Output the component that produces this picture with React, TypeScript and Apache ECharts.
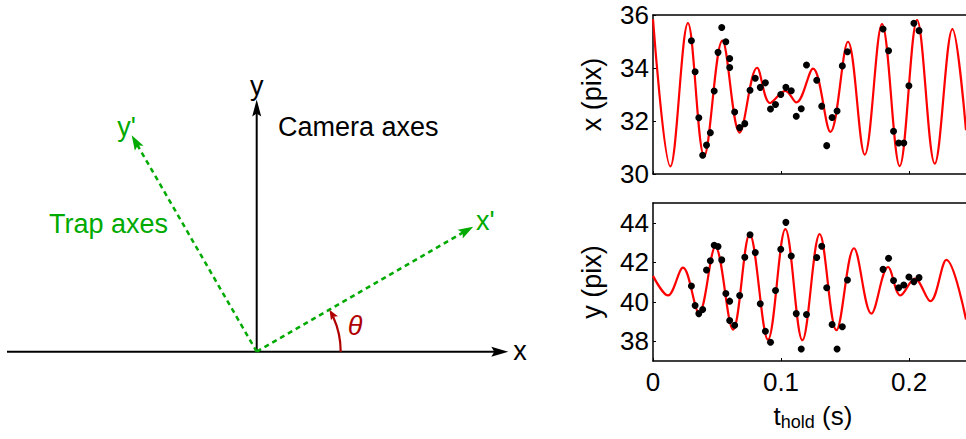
import { useEffect, useRef } from 'react';
import * as echarts from 'echarts';

// ---- data ----
const tHold = [0.0300, 0.0329, 0.0358, 0.0388, 0.0418, 0.0448, 0.0478, 0.0508, 0.0537, 0.0569,
  0.0599, 0.0599, 0.0638, 0.0677, 0.0717, 0.0758, 0.0799, 0.0838, 0.0878, 0.0918,
  0.0957, 0.0998, 0.1038, 0.1080, 0.1119, 0.1158, 0.1199, 0.1279, 0.1318, 0.1357,
  0.1399, 0.1438, 0.1479, 0.1519, 0.1797, 0.1840, 0.1879, 0.1919, 0.1959, 0.1999,
  0.2038, 0.2078];

const xPix = [35.03, 33.86, 32.12, 30.71, 31.09, 31.56, 33.13, 34.59, 35.53, 34.99,
  34.36, 34.02, 32.34, 31.75, 31.90, 33.16, 33.61, 33.27, 33.44, 32.45,
  32.62, 33.00, 33.27, 33.14, 32.18, 32.46, 34.11, 33.54, 32.56, 31.07,
  32.13, 32.38, 34.08, 34.61, 35.47, 34.65, 31.61, 31.17, 31.17, 33.33,
  35.69, 35.41];

const yPix = [40.80, 39.81, 39.40, 39.61, 41.61, 42.08, 42.86, 42.80, 42.12, 40.42,
  40.03, 39.05, 38.81, 40.32, 42.25, 43.39, 42.49, 39.90, 38.51, 37.95,
  40.57, 42.66, 44.02, 42.32, 39.40, 37.61, 39.35, 42.24, 42.81, 40.71,
  38.85, 37.61, 38.73, 41.10, 41.64, 42.20, 41.08, 40.71, 40.85, 41.25,
  41.02, 41.22];

// fit curves: turning points
const xFitT = [0, 0.0136, 0.0273, 0.0400, 0.0542, 0.0677, 0.0813, 0.0915, 0.1034, 0.1120,
  0.1250, 0.1386, 0.1523, 0.1654, 0.1789, 0.1927, 0.2063, 0.2201, 0.2339, 0.2445];
const xFitV = [35.84, 30.29, 35.69, 30.68, 35.03, 31.56, 34.01, 32.68, 33.14, 32.70,
  33.98, 31.59, 34.99, 30.73, 35.66, 30.30, 35.81, 30.39, 35.47, 31.65];

const yFitT = [0, 0.0117, 0.0234, 0.0359, 0.0487, 0.0625, 0.0755, 0.0898, 0.1034, 0.1167,
  0.1302, 0.1433, 0.1570, 0.1706, 0.1836, 0.1933, 0.2045, 0.2167, 0.2292, 0.2445];
const yFitV = [41.31, 40.32, 41.73, 39.44, 42.78, 38.59, 43.42, 38.08, 43.68, 38.05,
  43.42, 38.56, 42.71, 39.40, 41.76, 40.32, 41.17, 40.03, 42.12, 39.10];

const tTicks = [0, 0.1, 0.2];
const tTickLabels = ['0', '0.1', '0.2'];
const xPixTicks = [30, 32, 34, 36];
const yPixTicks = [38, 40, 42, 44];

const FONT = "'Liberation Sans', Arial, Helvetica, sans-serif";
const T_MAX = 0.2445;
const GREEN = '#00aa00';
const DARKRED = '#b00000';

type P = [number, number];

function arrowHead(tip: P, ang: number, len: number, halfW: number, notch: number): P[] {
  // ang: direction of travel in screen radians (0 = right, positive = up)
  const d: P = [Math.cos(ang), -Math.sin(ang)];
  const n: P = [-d[1], d[0]];
  const b: P = [tip[0] - len * d[0], tip[1] - len * d[1]];
  return [
    tip,
    [b[0] + halfW * n[0], b[1] + halfW * n[1]],
    [tip[0] - (len - notch) * d[0], tip[1] - (len - notch) * d[1]],
    [b[0] - halfW * n[0], b[1] - halfW * n[1]],
  ];
}

function buildDiagram(): any[] {
  const O: P = [256.7, 351.7];
  const theta = (30 * Math.PI) / 180;
  const L = 250;
  const els: any[] = [];
  // camera x axis
  const xTip: P = [508.3, O[1]];
  els.push({ type: 'line', shape: { x1: 7, y1: O[1], x2: xTip[0] - 12, y2: O[1] }, style: { stroke: '#000', lineWidth: 2 } });
  els.push({ type: 'polygon', shape: { points: arrowHead(xTip, 0, 17, 5, 3) }, style: { fill: '#000' } });
  // camera y axis
  const yTip: P = [O[0], 99.5];
  els.push({ type: 'line', shape: { x1: O[0], y1: O[1], x2: O[0], y2: yTip[1] + 12 }, style: { stroke: '#000', lineWidth: 2 } });
  els.push({ type: 'polygon', shape: { points: arrowHead(yTip, Math.PI / 2, 17, 4.5, 3) }, style: { fill: '#000' } });
  // trap axes
  [theta, theta + Math.PI / 2].forEach((a) => {
    const tip: P = [O[0] + L * Math.cos(a), O[1] - L * Math.sin(a)];
    const end: P = [O[0] + (L - 11) * Math.cos(a), O[1] - (L - 11) * Math.sin(a)];
    els.push({ type: 'line', shape: { x1: O[0], y1: O[1], x2: end[0], y2: end[1] }, style: { stroke: GREEN, lineWidth: 2.5, lineDash: [5, 4] } });
    els.push({ type: 'polygon', shape: { points: arrowHead(tip, a, 15, 5, 3) }, style: { fill: GREEN } });
  });
  // theta arc
  const r = 84;
  els.push({ type: 'arc', shape: { cx: O[0], cy: O[1], r, startAngle: 0, endAngle: -(theta - 8 / r), clockwise: false }, style: { stroke: DARKRED, lineWidth: 2.2, fill: 'none' } });
  const aTip: P = [O[0] + r * Math.cos(theta), O[1] - r * Math.sin(theta)];
  els.push({ type: 'polygon', shape: { points: arrowHead(aTip, theta + Math.PI / 2, 10, 4, 2) }, style: { fill: DARKRED } });

  const txt = (text: string, x: number, y: number, fill: string, align: string, extra: any = {}) => ({
    type: 'text', x, y,
    style: { text, fill, fontSize: 27, fontFamily: FONT, align, verticalAlign: 'middle', textAlign: align, textVerticalAlign: 'middle', ...extra },
  });
  els.push(txt('y', O[0], 86, '#000', 'center'));
  els.push(txt('Camera axes', 278, 127, '#000', 'left'));
  els.push(txt('Trap axes', 168, 224, GREEN, 'right'));
  els.push(txt("y'", 126.5, 126.5, GREEN, 'center'));
  els.push(txt("x'", 476, 221, GREEN, 'left'));
  els.push(txt('x', 520, 350.5, '#000', 'center'));
  els.push(txt('θ', 355, 325.5, DARKRED, 'center', { fontStyle: 'italic' }));
  return els;
}

export default function App() {
  const ref = useRef<HTMLDivElement>(null);
  useEffect(() => {
    const chart = echarts.init(ref.current!, null, { renderer: 'svg' });
    const axisLine = { show: true, onZero: false, lineStyle: { color: '#000', width: 1.5 } };
    const tickIn = (vals: number[]) => ({ show: true, inside: true, length: 3, customValues: vals, lineStyle: { color: '#000', width: 1 } });
    const tAxis = (grid: number, labels: boolean) => ({
      gridIndex: grid, type: 'value', min: 0, max: T_MAX, position: 'bottom',
      axisLine, axisTick: tickIn(tTicks), splitLine: { show: false },
      axisLabel: {
        show: labels, customValues: tTicks, color: '#000', fontSize: 26, fontFamily: FONT, margin: 8,
        formatter: (v: number) => { const i = tTicks.findIndex((t) => Math.abs(t - v) < 1e-9); return i >= 0 ? tTickLabels[i] : ''; },
      },
    });
    const topLine = (grid: number) => ({
      gridIndex: grid, type: 'value', min: 0, max: T_MAX, position: 'top',
      axisLine, axisTick: { show: false }, axisLabel: { show: false }, splitLine: { show: false },
    });
    const valAxis = (grid: number, min: number, max: number, ticks: number[]) => ({
      gridIndex: grid, type: 'value', min, max,
      axisLine, axisTick: tickIn(ticks), splitLine: { show: false },
      axisLabel: { customValues: ticks, color: '#000', fontSize: 26, fontFamily: FONT, margin: 4 },
    });
    const graphic: any[] = [
      ...buildDiagram(),
      { type: 'text', x: 592, y: 94.5, rotation: Math.PI / 2, style: { text: 'x (pix)', fill: '#000', fontSize: 27, fontFamily: FONT, align: 'center', verticalAlign: 'middle', textAlign: 'center', textVerticalAlign: 'middle' } },
      { type: 'text', x: 592, y: 282, rotation: Math.PI / 2, style: { text: 'y (pix)', fill: '#000', fontSize: 27, fontFamily: FONT, align: 'center', verticalAlign: 'middle', textAlign: 'center', textVerticalAlign: 'middle' } },
      {
        type: 'text', x: 813, y: 416,
        style: {
          text: '{a|t}{b|hold}{a| (s)}', align: 'center', verticalAlign: 'middle', textAlign: 'center', textVerticalAlign: 'middle',
          rich: {
            a: { fontSize: 26, lineHeight: 30, fontFamily: FONT, fill: '#000' },
            b: { fontSize: 18, lineHeight: 12, verticalAlign: 'bottom', fontFamily: FONT, fill: '#000' },
          },
        },
      },
    ];
    const option: any = {
      animation: false,
      backgroundColor: '#fff',
      textStyle: { fontFamily: FONT },
      grid: [
        { left: 653, top: 15, width: 313, height: 159 },
        { left: 653, top: 203, width: 313, height: 158 },
      ],
      xAxis: [tAxis(0, false), topLine(0), tAxis(1, true), topLine(1)],
      yAxis: [valAxis(0, 30, 36, xPixTicks), valAxis(1, 37, 45, yPixTicks)],
      graphic,
      series: [
        {
          type: 'line', xAxisIndex: 0, yAxisIndex: 0, data: xFitT.map((t, i) => [t, xFitV[i]]),
          smooth: 0.36, symbol: 'none', lineStyle: { color: '#ff0000', width: 2.2 }, z: 2,
        },
        {
          type: 'scatter', xAxisIndex: 0, yAxisIndex: 0, data: tHold.map((t, i) => [t, xPix[i]]),
          symbolSize: 7, itemStyle: { color: '#000', opacity: 1 }, z: 3,
        },
        {
          type: 'line', xAxisIndex: 2, yAxisIndex: 1, data: yFitT.map((t, i) => [t, yFitV[i]]),
          smooth: 0.36, symbol: 'none', lineStyle: { color: '#ff0000', width: 2.2 }, z: 2,
        },
        {
          type: 'scatter', xAxisIndex: 2, yAxisIndex: 1, data: tHold.map((t, i) => [t, yPix[i]]),
          symbolSize: 7, itemStyle: { color: '#000', opacity: 1 }, z: 3,
        },
      ],
    };
    chart.setOption(option);
    return () => chart.dispose();
  }, []);
  return <div ref={ref} style={{ position: 'absolute', left: 0, top: 0, width: 966, height: 439 }} />;
}
